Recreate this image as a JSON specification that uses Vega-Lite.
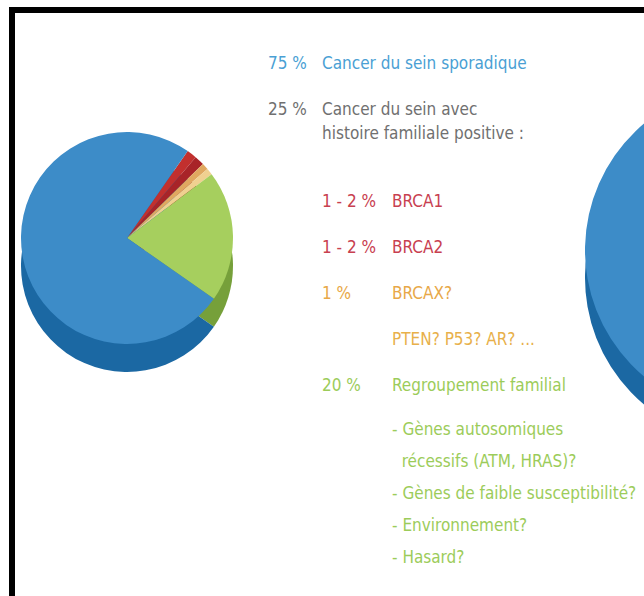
{
  "$schema": "https://vega.github.io/schema/vega-lite/v6.json",
  "autosize": {"type": "none"},
  "padding": {"left": 12, "top": 10, "right": 0, "bottom": 0},
  "width": 660,
  "height": 600,
  "background": "#ffffff",
  "config": {
    "view": {"stroke": "#000000", "strokeWidth": 6, "fill": "#ffffff"},
    "text": {"font": "DejaVu Sans Condensed, Liberation Sans Narrow, sans-serif"}
  },
  "datasets": {
    "pie": [
      {"categorie": "BRCA1", "part": 1.5, "ordre": 1},
      {"categorie": "BRCA2", "part": 1.5, "ordre": 2},
      {"categorie": "BRCAX", "part": 1, "ordre": 3},
      {"categorie": "PTEN? P53? AR?", "part": 1, "ordre": 4},
      {"categorie": "Regroupement familial", "part": 20, "ordre": 5},
      {"categorie": "Cancer du sein sporadique", "part": 75, "ordre": 6}
    ],
    "texte": [
      {"rang": 0, "niveau": 0, "pct": "75 %", "label": "Cancer du sein sporadique", "groupe": "sporadique"},
      {"rang": 1, "niveau": 0, "pct": "25 %", "label": "Cancer du sein avec\nhistoire familiale positive :", "groupe": "familial"},
      {"rang": 3, "niveau": 1, "pct": "1 - 2 %", "label": "BRCA1", "groupe": "BRCA1"},
      {"rang": 4, "niveau": 1, "pct": "1 - 2 %", "label": "BRCA2", "groupe": "BRCA2"},
      {"rang": 5, "niveau": 1, "pct": "1 %", "label": "BRCAX?", "groupe": "BRCAX"},
      {"rang": 6, "niveau": 1, "pct": "", "label": "PTEN? P53? AR? ...", "groupe": "autres"},
      {"rang": 7, "niveau": 1, "pct": "20 %", "label": "Regroupement familial", "groupe": "regroupement"}
    ],
    "liste": [
      {"rang": 8, "niveau": 1, "label": "- Gènes autosomiques\n\u200b\u00a0\u00a0récessifs (ATM, HRAS)?\n- Gènes de faible susceptibilité?\n- Environnement?\n- Hasard?", "groupe": "regroupement"}
    ]
  },
  "layer": [
    {
      "data": {"name": "pie"},
      "mark": {"type": "arc", "radius": 106, "yOffset": 28},
      "encoding": {
        "theta": {"field": "part", "type": "quantitative", "stack": true, "scale": {"range": [0.61, 6.893]}},
        "order": {"field": "ordre", "type": "quantitative"},
        "color": {"field": "categorie", "type": "nominal", "legend": null,
          "scale": {"domain": ["BRCA1", "BRCA2", "BRCAX", "PTEN? P53? AR?", "Regroupement familial", "Cancer du sein sporadique"],
                    "range": ["#8a1c1c", "#761818", "#b08040", "#c0a060", "#76a03a", "#1b68a3"]}},
        "x": {"datum": "gauche", "type": "nominal", "axis": null, "scale": {"type": "point", "domain": ["gauche", "droite"], "range": [115, 733], "padding": 0}},
        "y": {"datum": "gauche", "type": "nominal", "axis": null, "scale": {"type": "point", "domain": ["gauche", "droite"], "range": [228, 235], "padding": 0}}
      }
    },
    {
      "data": {"name": "pie"},
      "mark": {"type": "arc", "radius": 106},
      "encoding": {
        "theta": {"field": "part", "type": "quantitative", "stack": true, "scale": {"range": [0.61, 6.893]}},
        "order": {"field": "ordre", "type": "quantitative"},
        "color": {"field": "categorie", "type": "nominal", "legend": null,
          "scale": {"domain": ["BRCA1", "BRCA2", "BRCAX", "PTEN? P53? AR?", "Regroupement familial", "Cancer du sein sporadique"],
                    "range": ["#c2302e", "#a82428", "#e0a860", "#f0d090", "#a6cf5e", "#3d8cc8"]}},
        "x": {"datum": "gauche", "type": "nominal", "axis": null, "scale": {"type": "point", "domain": ["gauche", "droite"], "range": [115, 733], "padding": 0}},
        "y": {"datum": "gauche", "type": "nominal", "axis": null, "scale": {"type": "point", "domain": ["gauche", "droite"], "range": [228, 235], "padding": 0}}
      }
    },
    {
      "data": {"name": "pie"},
      "mark": {"type": "arc", "radius": 165, "yOffset": 28},
      "encoding": {
        "theta": {"field": "part", "type": "quantitative", "stack": true, "scale": {"range": [0.61, 6.893]}},
        "order": {"field": "ordre", "type": "quantitative"},
        "color": {"field": "categorie", "type": "nominal", "legend": null,
          "scale": {"domain": ["BRCA1", "BRCA2", "BRCAX", "PTEN? P53? AR?", "Regroupement familial", "Cancer du sein sporadique"],
                    "range": ["#8a1c1c", "#761818", "#b08040", "#c0a060", "#76a03a", "#1b68a3"]}},
        "x": {"datum": "droite", "type": "nominal", "axis": null, "scale": {"type": "point", "domain": ["gauche", "droite"], "range": [115, 738], "padding": 0}},
        "y": {"datum": "droite", "type": "nominal", "axis": null, "scale": {"type": "point", "domain": ["gauche", "droite"], "range": [228, 240], "padding": 0}}
      }
    },
    {
      "data": {"name": "pie"},
      "mark": {"type": "arc", "radius": 165},
      "encoding": {
        "theta": {"field": "part", "type": "quantitative", "stack": true, "scale": {"range": [0.61, 6.893]}},
        "order": {"field": "ordre", "type": "quantitative"},
        "color": {"field": "categorie", "type": "nominal", "legend": null,
          "scale": {"domain": ["BRCA1", "BRCA2", "BRCAX", "PTEN? P53? AR?", "Regroupement familial", "Cancer du sein sporadique"],
                    "range": ["#c2302e", "#a82428", "#e0a860", "#f0d090", "#a6cf5e", "#3d8cc8"]}},
        "x": {"datum": "droite", "type": "nominal", "axis": null, "scale": {"type": "point", "domain": ["gauche", "droite"], "range": [115, 738], "padding": 0}},
        "y": {"datum": "droite", "type": "nominal", "axis": null, "scale": {"type": "point", "domain": ["gauche", "droite"], "range": [228, 240], "padding": 0}}
      }
    },
    {
      "data": {"name": "texte"},
      "mark": {"type": "text", "align": "left", "baseline": "top", "fontSize": 17},
      "encoding": {
        "text": {"field": "pct", "type": "nominal"},
        "x": {"field": "niveau", "type": "ordinal", "axis": null, "scale": {"type": "point", "domain": [0, 1], "range": [256, 310], "padding": 0}},
        "y": {"field": "rang", "type": "ordinal", "axis": null, "scale": {"type": "point", "domain": [0, 1, 2, 3, 4, 5, 6, 7, 8], "range": [46, 414], "padding": 0}},
        "color": {"field": "groupe", "type": "nominal", "legend": null,
          "scale": {"domain": ["sporadique", "familial", "BRCA1", "BRCA2", "BRCAX", "autres", "regroupement"],
                    "range": ["#4a9fd4", "#707070", "#c84050", "#c84050", "#e8a848", "#e8b04a", "#9ccc5a"]}}
      }
    },
    {
      "data": {"name": "texte"},
      "mark": {"type": "text", "align": "left", "baseline": "top", "fontSize": 17, "lineBreak": "\n", "lineHeight": 24},
      "encoding": {
        "text": {"field": "label", "type": "nominal"},
        "x": {"field": "niveau", "type": "ordinal", "axis": null, "scale": {"type": "point", "domain": [0, 1], "range": [310, 380], "padding": 0}},
        "y": {"field": "rang", "type": "ordinal", "axis": null, "scale": {"type": "point", "domain": [0, 1, 2, 3, 4, 5, 6, 7, 8], "range": [46, 414], "padding": 0}},
        "color": {"field": "groupe", "type": "nominal", "legend": null,
          "scale": {"domain": ["sporadique", "familial", "BRCA1", "BRCA2", "BRCAX", "autres", "regroupement"],
                    "range": ["#4a9fd4", "#707070", "#c84050", "#c84050", "#e8a848", "#e8b04a", "#9ccc5a"]}}
      }
    },
    {
      "data": {"name": "liste"},
      "mark": {"type": "text", "align": "left", "baseline": "top", "fontSize": 17, "lineBreak": "\n", "lineHeight": 32},
      "encoding": {
        "text": {"field": "label", "type": "nominal"},
        "x": {"field": "niveau", "type": "ordinal", "axis": null, "scale": {"type": "point", "domain": [0, 1], "range": [310, 380], "padding": 0}},
        "y": {"field": "rang", "type": "ordinal", "axis": null, "scale": {"type": "point", "domain": [0, 1, 2, 3, 4, 5, 6, 7, 8], "range": [46, 412], "padding": 0}},
        "color": {"field": "groupe", "type": "nominal", "legend": null,
          "scale": {"domain": ["sporadique", "familial", "BRCA1", "BRCA2", "BRCAX", "autres", "regroupement"],
                    "range": ["#4a9fd4", "#707070", "#c84050", "#c84050", "#e8a848", "#e8b04a", "#9ccc5a"]}}
      }
    }
  ],
  "resolve": {"scale": {"x": "independent", "y": "independent", "color": "independent"}}
}
